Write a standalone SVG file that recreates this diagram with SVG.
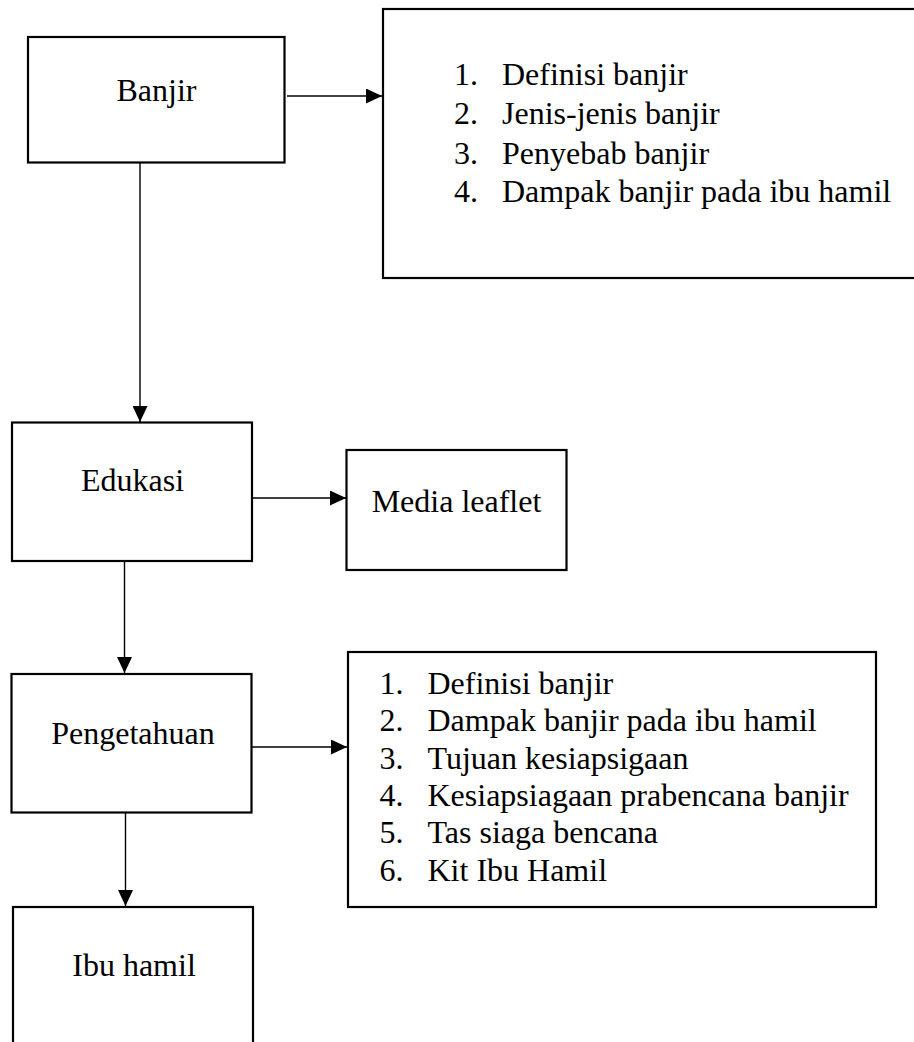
<svg xmlns="http://www.w3.org/2000/svg" width="914" height="1042" viewBox="0 0 914 1042">
<style>
.box{fill:#fff;stroke:#000;stroke-width:2.2}
.t{font-family:"Liberation Serif","Times New Roman",serif;font-size:32px;fill:#000}
.c{text-anchor:middle}
.ln{stroke:#000;stroke-width:1.4;fill:none}
</style>
<defs>
<marker id="ah" markerUnits="userSpaceOnUse" viewBox="0 0 16 15" refX="16" refY="7.5" markerWidth="16" markerHeight="15" orient="auto">
<path d="M0,0 L16,7.5 L0,15 Z" fill="#000"/>
</marker>
</defs>
<rect width="914" height="1042" fill="#fff"/>
<g id="connectors">
<line class="ln" x1="287" y1="96" x2="382" y2="96" marker-end="url(#ah)"/>
<line class="ln" x1="140" y1="163" x2="140" y2="422" marker-end="url(#ah)"/>
<line class="ln" x1="253" y1="498" x2="346" y2="498" marker-end="url(#ah)"/>
<line class="ln" x1="124.5" y1="561" x2="124.5" y2="673" marker-end="url(#ah)"/>
<line class="ln" x1="252" y1="747" x2="347" y2="747" marker-end="url(#ah)"/>
<line class="ln" x1="125.5" y1="813" x2="125.5" y2="906" marker-end="url(#ah)"/>
</g>
<g id="banjir">
<rect class="box" x="28" y="37" width="256.5" height="125.5"/>
<text class="t c" x="156.5" y="101">Banjir</text>
</g>
<g id="banjir-list">
<rect class="box" x="383" y="9" width="540" height="269"/>
<text class="t" x="454" y="85">1.</text><text class="t" x="502" y="85">Definisi banjir</text>
<text class="t" x="454" y="124">2.</text><text class="t" x="502" y="124">Jenis-jenis banjir</text>
<text class="t" x="454" y="163.5">3.</text><text class="t" x="502" y="163.5">Penyebab banjir</text>
<text class="t" x="454" y="202">4.</text><text class="t" x="502" y="202">Dampak banjir pada ibu hamil</text>
</g>
<g id="edukasi">
<rect class="box" x="12" y="422.5" width="240" height="138.5"/>
<text class="t c" x="132.5" y="491">Edukasi</text>
</g>
<g id="media-leaflet">
<rect class="box" x="346.5" y="450" width="220" height="120"/>
<text class="t c" x="456.5" y="511.5">Media leaflet</text>
</g>
<g id="pengetahuan">
<rect class="box" x="11.5" y="674" width="240" height="138.5"/>
<text class="t c" x="133" y="744">Pengetahuan</text>
</g>
<g id="pengetahuan-list">
<rect class="box" x="348" y="652" width="528" height="255"/>
<text class="t" x="379.5" y="693.5">1.</text><text class="t" x="427.5" y="693.5">Definisi banjir</text>
<text class="t" x="379.5" y="731">2.</text><text class="t" x="427.5" y="731">Dampak banjir pada ibu hamil</text>
<text class="t" x="379.5" y="768.5">3.</text><text class="t" x="427.5" y="768.5">Tujuan kesiapsigaan</text>
<text class="t" x="379.5" y="806">4.</text><text class="t" x="427.5" y="806">Kesiapsiagaan prabencana banjir</text>
<text class="t" x="379.5" y="843">5.</text><text class="t" x="427.5" y="843">Tas siaga bencana</text>
<text class="t" x="379.5" y="880.5">6.</text><text class="t" x="427.5" y="880.5">Kit Ibu Hamil</text>
</g>
<g id="ibu-hamil">
<rect class="box" x="13" y="907" width="240" height="160"/>
<text class="t c" x="134" y="976">Ibu hamil</text>
</g>
</svg>
